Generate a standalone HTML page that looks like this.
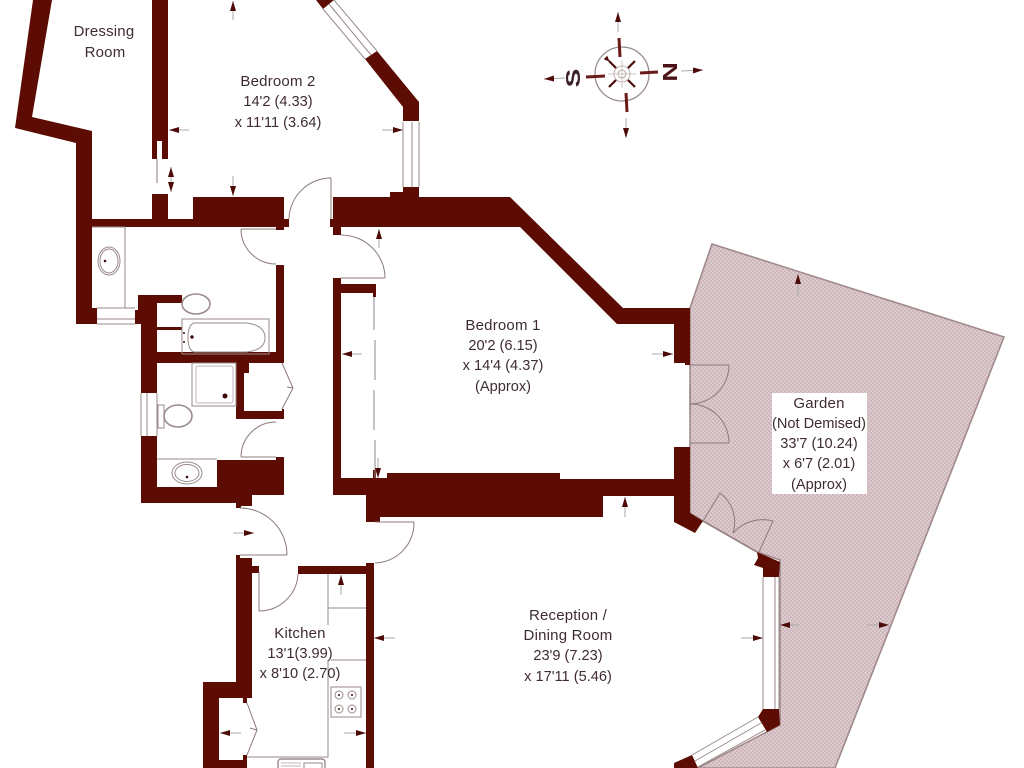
<!DOCTYPE html>
<html><head><meta charset="utf-8"><style>
html,body{margin:0;padding:0;background:#fff;width:1024px;height:768px;overflow:hidden}
svg{display:block;filter:blur(.35px)}
text{font-family:"Liberation Sans",sans-serif;font-size:15px;fill:#3f2c30;text-anchor:middle;letter-spacing:.2px}
text.n{font-size:14.6px;letter-spacing:0}
.w{fill:#5c0c03}
.t{fill:none;stroke:#9a8a8a;stroke-width:1}
.d{fill:none;stroke:#8d7a7a;stroke-width:1}
.a{stroke:#aaa;stroke-width:1;fill:none;marker-end:url(#h)}
</style></head><body>
<svg width="1024" height="768" viewBox="0 0 1024 768" xmlns="http://www.w3.org/2000/svg">
<defs>
<marker id="h" markerWidth="10" markerHeight="7" refX="10" refY="3.5" orient="auto" markerUnits="userSpaceOnUse"><path d="M0 0.5L10 3.5L0 6.5Z" fill="#4d0b08"/></marker>
<marker id="hs" markerWidth="6" markerHeight="6" refX="5" refY="3" orient="auto" markerUnits="userSpaceOnUse"><path d="M0 0.5L6 3L0 5.5Z" fill="#4d0b08"/></marker>
<pattern id="hatch" width="4" height="4" patternUnits="userSpaceOnUse"><rect width="4" height="4" fill="#cfb6ba"/><rect width="2" height="2" fill="#dccbce"/><rect x="2" y="2" width="2" height="2" fill="#dccbce"/></pattern>
</defs>

<!-- Garden -->
<polygon points="712,244 1004,337 835,768 698,768 780,725 780,560 757,552 703,521 690,513 690,308" fill="url(#hatch)" stroke="#a08a8c" stroke-width="1.6"/>
<rect x="772" y="393" width="95" height="101" fill="#fff"/>

<!-- Walls -->
<g class="w">
<polygon points="33,0 52,0 32,117 92,131 92,219 152,219 152,194 168,194 168,219 193,219 193,197 284,197 284,219 289,219 289,227 284,227 284,230 276,230 276,227 92,227 92,308 97,308 97,324 76,324 76,143 15,128"/>
<polygon points="152,0 168,0 168,159 162,159 162,141 157,141 157,159 152,159"/>
<polygon points="333,197 390,197 390,192 403,192 403,187 419,187 419,197 510,197 623,308 690,308 690,365 685,365 685,363 674,363 674,324 617,324 520,227 341,227 341,235 333,235 333,227 330,227 330,219 333,219"/>
<polygon points="419,102 377,51 365,59 403,107 403,121 419,121"/>
<polygon points="316,0 334,0 323,9"/>
<!-- corridor right wall & bedroom 1 bottom -->
<polygon points="333,278 341,278 341,284 376,284 376,297 373,297 373,293 341,293 341,478 373,478 373,470 376,470 376,478 387,478 387,473 560,473 560,479 674,479 674,447 690,447 690,513 703,521 695,533 674,522 674,496 603,496 603,517 380,517 380,522 366,522 366,495 333,495"/>
<!-- bay blocks -->
<polygon points="757,552 780,562 779,577 763,577 763,568 754,565 758,558"/>
<polygon points="763,709 779,709 780,725 767,732 758,717"/>
<polygon points="692,755 698,768 674,768 674,763"/>
<!-- bathroom walls -->
<polygon points="138,295 182,295 182,303 157,303 157,327 182,327 182,330 157,330 157,352 276,352 276,265 284,265 284,363 249,363 249,373 244,373 244,411 282,411 282,409 284,409 284,419 236,419 236,363 157,363 157,393 141,393 141,324 135,324 135,310 138,310"/>
<polygon points="141,436 157,436 157,487 217,487 217,460 276,460 276,457 284,457 284,495 252,495 252,506 241,506 241,508 236,508 236,503 141,503"/>
<!-- kitchen -->
<polygon points="236,555 240,555 240,558 252,558 252,566 259,566 259,573 252,573 252,698 247,698 247,703 243,703 243,698 219,698 219,760 243,760 243,755 247,755 247,768 203,768 203,682 236,682"/>
<rect x="298" y="566" width="76" height="8"/>
<rect x="366" y="563" width="8" height="205"/>
</g>

<!-- Windows -->
<g class="t">
<path d="M365,59L323,9M377,51L334,0M371,55L329,4"/>
<path d="M403,122V187M419,122V187M412,122V187"/>
<path d="M97,308H135M97,319H135M97,324H135"/>
<path d="M141,393V436M147,393V436M157,393V436"/>
<path d="M763,577V709M775,577V709M779,577V709"/>
<path d="M758,717L692,755M765,730L698,767M761,723L695,761"/>
</g>

<!-- Doors -->
<g class="d">
<path d="M241,229H276M241,229A35,35 0 0 0 276,264"/>
<path d="M331,178V219M331,178A42,42 0 0 0 289,219"/>
<path d="M341,278H385M341,235A44,43 0 0 1 385,278"/>
<path d="M241,457H276M241,457A35,35 0 0 1 276,422"/>
<path d="M282,363L293,388L282,409M293,388L287,387"/>
<path d="M240,555H287M240,508A47,47 0 0 1 287,555"/>
<path d="M259,572V611M298,574A39,39 0 0 1 259,611"/>
<path d="M375,522H414M414,522A40,40 0 0 1 375,563"/>
<path d="M247,703L257,730L247,755M257,730L250,728"/>
<path d="M690,365H729M729,365A39,39 0 0 1 690,404"/>
<path d="M690,443H729M729,443A39,39 0 0 0 690,404M690,386V410"/>
<path d="M703,521L757,552"/>
<path d="M703,521L720,493A36,36 0 0 1 733,533"/>
<path d="M759,552L773,521A40,40 0 0 0 733,533"/>
<path d="M157,159V183"/>
</g>

<!-- Fixtures -->
<g class="t">
<path d="M92,227H125V308"/>
<ellipse cx="109" cy="261" rx="11" ry="14"/><ellipse cx="109" cy="261" rx="9" ry="12"/>
<ellipse cx="196" cy="304" rx="14" ry="10" stroke-width="1.6"/>
<rect x="182" y="319" width="87" height="35"/>
<path d="M194,323H246Q265,325 265,338Q265,350 246,352H194Q188,350 188,338Q188,325 194,323Z"/>
<rect x="192" y="363" width="44" height="43"/><rect x="196" y="366" width="37" height="37" rx="2" stroke="#c4b6b6"/>
<rect x="158" y="405" width="6" height="23"/>
<ellipse cx="178" cy="416" rx="14" ry="11" stroke-width="1.6"/>
<path d="M157,459H217"/>
<ellipse cx="187" cy="473" rx="15" ry="11"/><ellipse cx="187" cy="473" rx="12" ry="8.5"/>
<path d="M374,297V330M375,340V380M374,390V430M375,440V478" stroke="#888"/>
<path d="M328,574V625M328,608H366M331,660H366M328,660V757H247"/>
<rect x="331" y="687" width="30" height="30"/>
<circle cx="339" cy="695" r="4"/><circle cx="352" cy="695" r="4"/><circle cx="339" cy="709" r="4"/><circle cx="352" cy="709" r="4"/>
<rect x="278" y="759" width="47" height="14" rx="3" stroke-width="1.4"/><rect x="304" y="763" width="18" height="8"/>
<path d="M281,763H301M281,766H301" stroke="#c4b6b6"/>
</g>
<g fill="#3a0a08">
<circle cx="105" cy="261" r="1.3"/><circle cx="225" cy="396" r="2.5"/><circle cx="187" cy="477" r="1.3"/><circle cx="192" cy="337" r="1.7"/><circle cx="184" cy="333" r="1"/><circle cx="184" cy="342" r="1"/>
<circle cx="339" cy="695" r="1"/><circle cx="352" cy="695" r="1"/><circle cx="339" cy="709" r="1"/><circle cx="352" cy="709" r="1"/>
</g>

<!-- Dimension arrows -->
<path class="a" d="M233,20V1"/><path class="a" d="M233,176V196"/>
<path class="a" d="M189,130H169"/><path class="a" d="M382,130H403"/>
<path class="a" d="M171,180V167"/><path class="a" d="M171,180V192"/>
<path class="a" d="M379,248V229"/><path class="a" d="M362,354H342"/>
<path class="a" d="M378,458V478"/><path class="a" d="M652,354H673"/>
<path class="a" d="M625,517V497"/>
<path class="a" d="M798,297V274"/><path class="a" d="M799,625H780"/><path class="a" d="M867,625H889"/>
<path class="a" d="M741,638H763"/><path class="a" d="M395,638H374"/>
<path class="a" d="M341,595V575"/><path class="a" d="M241,733H220"/><path class="a" d="M344,733H366"/>
<path class="a" d="M233,533H254"/>

<!-- Compass -->
<g>
<circle cx="622" cy="74" r="27" fill="none" stroke="#9a8c8c" stroke-width="1.3"/>
<circle cx="622" cy="74" r="8" fill="none" stroke="#b0a0a0" stroke-width=".8"/>
<circle cx="622" cy="74" r="4" fill="none" stroke="#998" stroke-width=".8"/>
<path d="M619,38L620,57M626,93L627,112M586,77L605,76M640,73L658,72" stroke="#6a1a18" stroke-width="3"/>
<path d="M608,74H636M622,60V88" stroke="#c0b4b4" stroke-width=".7"/>
<path class="a" d="M618,32V12"/><path class="a" d="M626,118V138"/><path class="a" d="M565,78L544,79"/><path class="a" d="M681,71L703,70"/>
<path d="M609,61L616,68M635,61L628,68M609,87L616,80M635,87L628,80" stroke="#4d0b08" stroke-width="2.2" marker-start="url(#hs)"/>
<text transform="translate(580,78) rotate(-90) scale(1.4,1)" style="font-size:20px;font-weight:bold;fill:#3a2226;letter-spacing:0">S</text>
<text transform="translate(663,72) rotate(90) scale(1.35,1)" style="font-size:20px;font-weight:bold;fill:#4a1116;letter-spacing:0">N</text>
</g>

<!-- Labels -->
<text x="104" y="36">Dressing</text><text x="105" y="57">Room</text>
<text x="278" y="86">Bedroom 2</text><text class="n" x="278" y="106">14'2 (4.33)</text><text class="n" x="278" y="127">x 11'11 (3.64)</text>
<text x="503" y="330">Bedroom 1</text><text class="n" x="503" y="350">20'2 (6.15)</text><text class="n" x="503" y="370">x 14'4 (4.37)</text><text class="n" x="503" y="391">(Approx)</text>
<text x="819" y="408">Garden</text><text class="n" x="819" y="428">(Not Demised)</text><text class="n" x="819" y="448">33'7 (10.24)</text><text class="n" x="819" y="468">x 6'7 (2.01)</text><text class="n" x="819" y="489">(Approx)</text>
<text x="568" y="620">Reception /</text><text x="568" y="640">Dining Room</text><text class="n" x="568" y="660">23'9 (7.23)</text><text class="n" x="568" y="681">x 17'11 (5.46)</text>
<text x="300" y="638">Kitchen</text><text class="n" x="300" y="658">13'1(3.99)</text><text class="n" x="300" y="678">x 8'10 (2.70)</text>
</svg>
</body></html>
